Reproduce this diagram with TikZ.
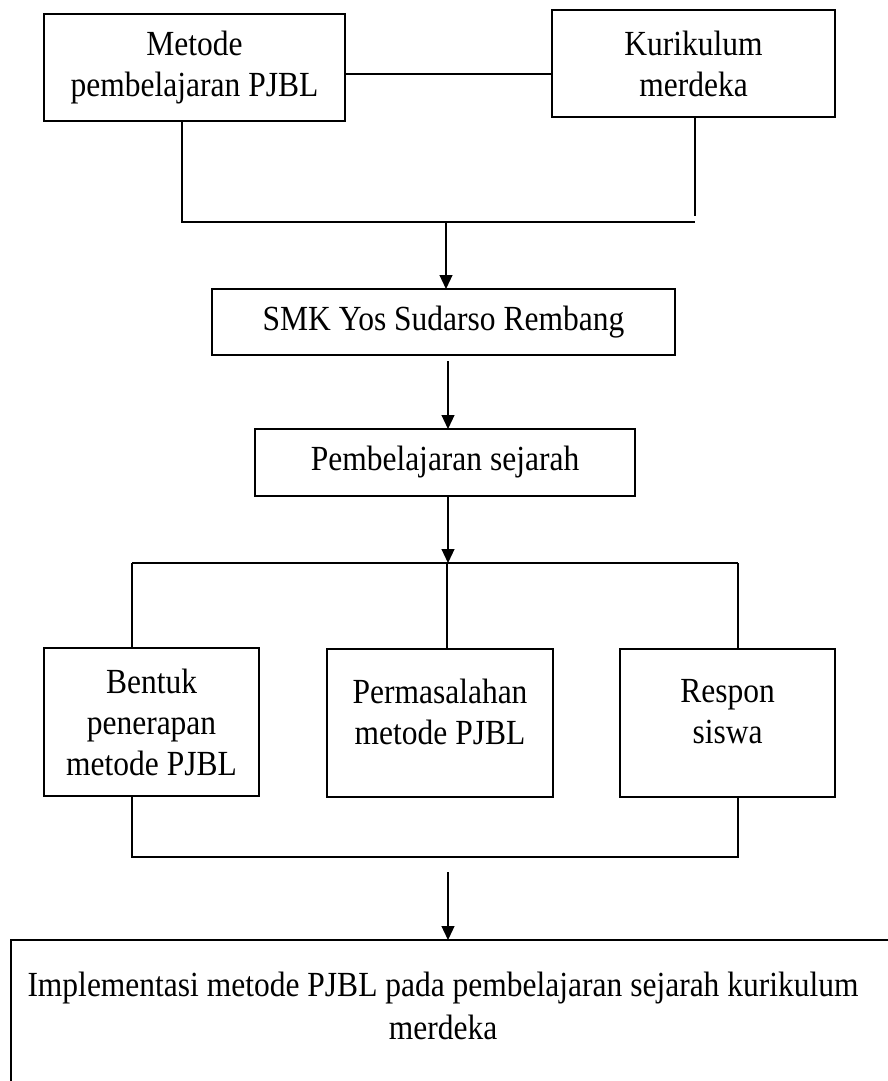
\documentclass[tikz,border=0pt]{standalone}
\usepackage{fontspec}
\setmainfont{Liberation Serif}
\usetikzlibrary{arrows.meta}
\begin{document}
\begin{tikzpicture}[x=1pt,y=-1pt,
  box/.style={draw, line width=2.7pt, inner sep=0pt, outer sep=0pt},
  txt/.style={inner sep=0pt, align=center, yscale=1.12, transform shape,
    font=\fontsize{31.5}{36.6}\selectfont},
  conn/.style={line width=1.2pt},
  arr/.style={conn, -{Triangle[length=14pt,width=13pt]}}]
\useasboundingbox (0,0) rectangle (888,1081);
\clip (0,0) rectangle (888,1081);
\fill[white] (0,0) rectangle (888,1081);

% top boxes
\node[box, minimum width=301pt, minimum height=107pt] (b1) at (194.5,67.5) {};
\node[txt] (t1) at (b1.center) {Metode\\pembelajaran PJBL};
\node[box, minimum width=283pt, minimum height=107pt] (b2) at (693.5,63.5) {};
\node[txt] (t2) at (b2.center) {Kurikulum\\merdeka};
\coordinate (m1) at (0,74);
\draw[conn] (b1.east |- m1) -- (b2.west |- m1);

\coordinate (j1) at (182,222);
\coordinate (j2) at (695,222);
\coordinate (j2e) at (695,216);
\coordinate (jm) at (446,222);
\draw[conn] (b1.south -| j1) -- (j1) -- (j2);
\draw[conn] (b2.south -| j2e) -- (j2e);

% SMK
\node[box, minimum width=463pt, minimum height=66pt] (b3) at (443.5,322) {};
\node[txt] (t3) at (b3.center) {SMK Yos Sudarso Rembang};
\draw[arr] (jm) -- (b3.north -| jm);

% Pembelajaran sejarah
\node[box, minimum width=380pt, minimum height=67pt] (b4) at (445,462.5) {};
\node[txt] (t4) at (b4.center) {Pembelajaran sejarah};
\coordinate (a2) at (448,361);
\draw[arr] (a2) -- (b4.north -| a2);

% split
\coordinate (s0) at (448,563);
\coordinate (s1) at (132,563);
\coordinate (s2) at (447,563);
\coordinate (s3) at (738,563);
\draw[arr] (b4.south -| s0) -- (s0);
\draw[conn] (s1) -- (s3);

\node[box, minimum width=215pt, minimum height=148pt] (b5) at (151.5,722) {};
\node[txt] (t5) at (b5.center) {Bentuk\\penerapan\\metode PJBL};
\node[box, minimum width=226pt, minimum height=148pt] (b6) at (440,723) {};
\node[txt] (t6) at ([yshift=11pt]b6.center) {Permasalahan\\metode PJBL};
\node[box, minimum width=215pt, minimum height=148pt] (b7) at (727.5,723) {};
\node[txt] (t7) at ([yshift=11pt]b7.center) {Respon\\siswa};

\draw[conn] (s1) -- (b5.north -| s1);
\draw[conn] (s2) -- (b6.north -| s2);
\draw[conn] (s3) -- (b7.north -| s3);

% merge
\coordinate (g1) at (132,857);
\coordinate (g2) at (738,857);
\coordinate (a4) at (448,872);
\draw[conn] (b5.south -| g1) -- (g1) -- (g2) -- (b7.south -| g2);

% bottom box
\node[box, anchor=north west, minimum width=889pt, minimum height=160pt] (b8) at (11,940) {};
\node[txt, font=\fontsize{31.5}{38.4}\selectfont] (t8) at (443,1006) {Implementasi metode PJBL pada pembelajaran sejarah kurikulum\\merdeka};
\draw[arr] (a4) -- (b8.north -| a4);
\end{tikzpicture}
\end{document}
